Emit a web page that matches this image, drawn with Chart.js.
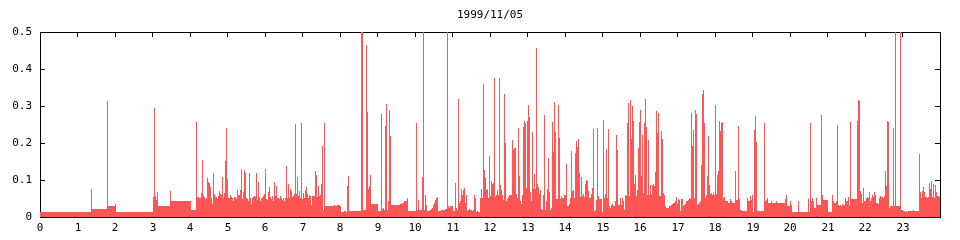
<!DOCTYPE html>
<html>
<head>
<meta charset="utf-8">
<script src="https://cdn.jsdelivr.net/npm/chart.js@4/dist/chart.umd.min.js"></script>
<style>
html,body{margin:0;padding:0;background:#fff;}
canvas{display:block;}
</style>
</head>
<body>
<canvas id="c" width="960" height="240"></canvas>
<script>
const chartTitle = '1999/11/05';
const hourLabels = ['0','1','2','3','4','5','6','7','8','9','10','11','12','13','14','15','16','17','18','19','20','21','22','23'];
const yLabels = ['0','0.1','0.2','0.3','0.4','0.5'];

// one sample per 96 seconds, 00:00 .. 24:00
const load = [
0.014,0.014,0.014,0.014,0.014,0.014,0.014,0.014,0.014,0.014,
0.014,0.014,0.014,0.014,0.014,0.014,0.014,0.014,0.014,0.014,
0.014,0.014,0.014,0.014,0.014,0.014,0.014,0.014,0.014,0.014,
0.014,0.014,0.014,0.014,0.014,0.014,0.014,0.014,0.014,0.014,
0.014,0.014,0.014,0.014,0.014,0.014,0.014,0.014,0.014,0.014,
0.014,0.077,
0.022,0.022,0.022,0.022,0.022,0.022,0.022,0.022,0.022,0.022,
0.022,0.022,0.022,0.022,0.022,0.314,0.031,0.031,0.031,0.031,
0.031,0.031,0.031,0.034,0.014,0.014,0.014,0.014,0.014,0.014,
0.014,0.014,0.014,0.014,0.014,0.014,0.014,0.014,0.014,0.014,
0.014,0.014,0.014,0.014,0.014,0.014,0.014,0.014,0.014,0.014,
0.014,0.014,0.014,0.014,0.014,0.014,0.014,0.014,0.014,0.014,
0.014,0.055,0.295,0.058,0.046,0.068,0.029,0.031,0.029,0.029,
0.031,0.029,0.029,0.029,0.029,0.029,0.029,0.029,0.070,0.042,
0.042,0.042,0.042,0.042,0.042,0.042,0.042,0.042,0.042,0.042,
0.042,0.042,0.042,0.042,0.042,0.042,0.042,0.042,0.042,0.018,
0.018,0.018,0.018,0.018,0.258,0.055,0.055,0.052,0.052,0.066,
0.155,0.060,0.055,0.049,0.052,0.106,0.095,0.093,0.080,0.052,
0.036,0.120,0.063,0.055,0.055,0.049,0.058,0.071,0.063,0.060,
0.109,0.052,0.065,0.152,0.241,0.103,0.052,0.052,0.060,0.055,
0.052,0.042,0.055,0.055,0.049,0.073,0.060,0.060,0.073,0.130,
0.049,0.068,0.127,0.120,0.052,0.049,0.044,0.120,0.052,0.036,
0.052,0.055,0.058,0.055,0.120,0.047,0.095,0.055,0.044,0.052,
0.052,0.058,0.063,0.130,0.049,0.047,0.068,0.080,0.055,0.049,
0.058,0.044,0.095,0.058,0.083,0.052,0.052,0.049,0.058,0.052,
0.047,0.052,0.042,0.052,0.139,0.052,0.088,0.052,0.075,0.071,
0.055,0.058,0.063,0.252,0.063,0.109,0.058,0.071,0.052,0.255,
0.049,0.066,0.052,0.073,0.082,0.063,0.052,0.060,0.058,0.033,
0.058,0.058,0.058,0.123,0.114,0.055,0.085,0.058,0.060,0.090,
0.193,0.020,0.255,0.029,0.029,0.029,0.029,0.029,0.029,0.029,
0.031,0.031,0.033,0.031,0.031,0.033,0.033,0.033,0.031,0.014,
0.014,0.014,0.016,0.016,0.014,0.083,0.110,0.016,0.016,0.016,
0.016,0.016,0.016,0.016,0.016,0.016,0.016,0.016,0.016,0.550,
0.550,0.019,0.019,0.019,0.466,0.285,0.076,0.084,0.114,0.036,
0.036,0.036,0.036,0.036,0.036,0.036,0.016,0.016,0.016,0.279,
0.022,0.025,0.019,0.247,0.306,0.019,0.042,0.290,0.220,0.033,
0.033,0.033,0.033,0.033,0.033,0.033,0.033,0.033,0.036,0.036,
0.039,0.039,0.042,0.042,0.042,0.052,0.016,0.016,0.016,0.016,
0.016,0.016,0.016,0.016,0.255,0.019,0.047,0.019,0.019,0.019,
0.109,0.550,0.019,0.060,0.033,0.016,0.016,0.016,0.019,0.022,
0.025,0.033,0.039,0.047,0.052,0.055,0.016,0.016,0.016,0.019,
0.019,0.019,0.019,0.022,0.022,0.550,0.029,0.025,0.029,0.029,
0.029,0.016,0.016,0.093,0.025,0.019,0.320,0.039,0.042,0.076,
0.060,0.073,0.079,0.039,0.060,0.016,0.019,0.022,0.019,0.019,
0.016,0.019,0.060,0.052,0.014,0.016,0.014,0.014,0.052,0.076,
0.052,0.360,0.127,0.106,0.073,0.076,0.052,0.166,0.058,0.098,
0.090,0.093,0.376,0.055,0.060,0.073,0.060,0.376,0.087,0.073,
0.060,0.047,0.333,0.200,0.044,0.049,0.055,0.060,0.060,0.060,
0.208,0.181,0.186,0.186,0.063,0.052,0.241,0.111,0.042,0.036,
0.060,0.244,0.260,0.255,0.079,0.260,0.304,0.271,0.068,0.044,
0.230,0.076,0.117,0.076,0.458,0.090,0.082,0.063,0.073,0.022,
0.019,0.060,0.277,0.019,0.042,0.076,0.160,0.068,0.019,0.025,
0.258,0.176,0.311,0.230,0.049,0.049,0.304,0.214,0.049,0.058,
0.052,0.052,0.060,0.060,0.144,0.031,0.031,0.036,0.052,0.179,
0.071,0.073,0.052,0.174,0.206,0.190,0.212,0.120,0.055,0.109,
0.058,0.063,0.055,0.090,0.100,0.098,0.071,0.052,0.052,0.063,
0.079,0.238,0.016,0.019,0.047,0.241,0.058,0.049,0.049,0.049,
0.014,0.263,0.052,0.063,0.184,0.052,0.238,0.031,0.025,0.033,
0.036,0.031,0.029,0.044,0.222,0.181,0.033,0.033,0.052,0.033,
0.052,0.044,0.019,0.060,0.058,0.255,0.309,0.058,0.317,0.212,
0.300,0.260,0.090,0.114,0.058,0.073,0.186,0.258,0.290,0.111,
0.222,0.066,0.255,0.320,0.244,0.060,0.208,0.060,0.087,0.063,
0.087,0.090,0.085,0.122,0.287,0.228,0.282,0.058,0.058,0.233,
0.212,0.066,0.060,0.031,0.025,0.025,0.025,0.029,0.031,0.033,
0.036,0.039,0.039,0.042,0.055,0.036,0.049,0.047,0.016,0.049,
0.049,0.031,0.033,0.036,0.042,0.044,0.047,0.052,0.049,0.282,
0.193,0.235,0.052,0.290,0.279,0.033,0.036,0.039,0.042,0.141,
0.333,0.344,0.255,0.052,0.060,0.111,0.220,0.087,0.063,0.066,
0.060,0.066,0.060,0.303,0.063,0.114,0.123,0.260,0.233,0.255,
0.258,0.052,0.055,0.044,0.042,0.044,0.039,0.039,0.049,0.044,
0.039,0.039,0.039,0.123,0.047,0.047,0.247,0.049,0.019,0.019,
0.016,0.016,0.016,0.016,0.016,0.052,0.044,0.044,0.058,0.047,
0.060,0.014,0.235,0.274,0.203,0.016,0.016,0.016,0.016,0.016,
0.016,0.016,0.255,0.044,0.047,0.052,0.039,0.039,0.039,0.042,
0.039,0.039,0.039,0.039,0.042,0.039,0.039,0.039,0.039,0.039,
0.039,0.039,0.039,0.049,0.060,0.029,0.029,0.029,0.042,0.033,
0.014,0.014,0.014,0.014,0.014,0.014,0.044,0.014,0.014,0.014,
0.014,0.014,0.014,0.014,0.014,0.014,0.049,0.014,0.255,0.044,
0.052,0.044,0.025,0.025,0.052,0.033,0.033,0.033,0.033,0.277,
0.060,0.047,0.047,0.047,0.047,0.047,0.014,0.014,0.014,0.014,
0.060,0.042,0.039,0.039,0.042,0.249,0.033,0.031,0.033,0.031,
0.036,0.033,0.033,0.052,0.042,0.044,0.055,0.029,0.258,0.049,
0.049,0.049,0.049,0.049,0.049,0.260,0.317,0.314,0.071,0.063,
0.039,0.079,0.044,0.044,0.052,0.055,0.052,0.068,0.042,0.052,
0.060,0.055,0.068,0.060,0.039,0.039,0.036,0.052,0.058,0.055,
0.055,0.052,0.058,0.123,0.085,0.260,0.258,0.025,0.029,0.029,
0.029,0.241,0.031,0.550,0.031,0.031,0.031,0.031,0.550,0.019,
0.019,0.016,0.016,0.014,0.016,0.014,0.016,0.016,0.016,0.016,
0.016,0.019,0.016,0.016,0.016,0.016,0.016,0.170,0.068,0.052,
0.071,0.082,0.068,0.055,0.055,0.052,0.055,0.093,0.076,0.098,
0.055,0.090,0.052,0.087,0.068,0.058,0.058,0.055
];

// sample start times in hours (uniform sampling over the day)
const sampleHours = load.map((_, i) => i * 24 / load.length);

const points = sampleHours.map((h, i) => ({ x: h, y: load[i] }));
points.push({ x: 24, y: load[load.length - 1] });

const font = { family: "'DejaVu Sans Mono', monospace", size: 11 };
const black = '#000000';
const red = '#ff5555';

const innerGrid = (len) => ({
  display: true, drawOnChartArea: false, drawTicks: true,
  tickLength: len, tickColor: black, tickWidth: 1, color: black
});
const frame = { display: true, color: black, width: 1 };

new Chart(document.getElementById('c'), {
  type: 'line',
  data: {
    datasets: [{
      data: points,
      xAxisID: 'x', yAxisID: 'y',
      stepped: true,
      fill: 'origin',
      backgroundColor: red,
      borderColor: 'rgba(0,0,0,0)',
      borderWidth: 0,
      pointRadius: 0,
      pointHoverRadius: 0,
      pointBorderWidth: 0,
      tension: 0
    }]
  },
  options: {
    responsive: false,
    animation: false,
    devicePixelRatio: 1,
    events: [],
    layout: { padding: 0 },
    plugins: { legend: { display: false }, tooltip: { enabled: false }, title: { display: false } },
    scales: {
      x: {
        type: 'linear', position: 'bottom', min: 0, max: 24,
        alignToPixels: true,
        afterFit: s => { s.height = 23; },
        grid: { display: true, drawOnChartArea: false, drawTicks: false },
        border: frame,
        ticks: {
          stepSize: 1, autoSkip: false, maxRotation: 0, minRotation: 0,
          padding: 5, color: black, font,
          callback: (v, i) => hourLabels[i] ?? ''
        }
      },
      x2: {
        type: 'linear', position: 'top', min: 0, max: 24,
        afterFit: s => { s.height = 32; },
        grid: innerGrid(-5),
        border: frame,
        ticks: { display: false, stepSize: 1, autoSkip: false },
        title: { display: true, text: chartTitle, color: black, font, padding: { top: 9, bottom: 0 } }
      },
      y: {
        type: 'linear', position: 'left', min: 0, max: 0.5,
        alignToPixels: true,
        afterFit: s => { s.width = 40; },
        grid: innerGrid(-5),
        border: frame,
        ticks: { stepSize: 0.1, padding: 13, color: black, font, callback: (v, i) => yLabels[i] ?? '' }
      },
      y2: {
        type: 'linear', position: 'right', min: 0, max: 0.5,
        afterFit: s => { s.width = 20; },
        grid: innerGrid(-5),
        border: frame,
        ticks: { display: false, stepSize: 0.1 }
      }
    }
  }
});
</script>
</body>
</html>
